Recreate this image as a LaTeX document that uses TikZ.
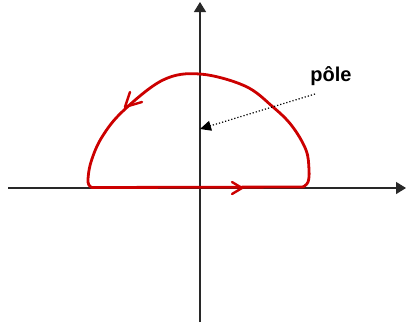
\documentclass[tikz,border=0pt]{standalone}
\usepackage{fontspec}
\setmainfont{Liberation Sans}
\usetikzlibrary{arrows.meta}
\definecolor{cred}{RGB}{204,0,0}
\definecolor{axisgray}{RGB}{40,40,40}
\tikzset{
  axis/.style={draw=axisgray, line width=1.3pt, -{Triangle[length=10pt,width=12pt]}},
  contour/.style={draw=cred, line width=2.8pt, line cap=round, line join=round},
  polearrow/.style={draw=black, line width=1.2pt, dotted, -{Triangle[length=11pt,width=10pt]}},
  lbl/.style={font=\bfseries\fontsize{20}{24}\selectfont, inner sep=0pt}
}
\begin{document}
\begin{tikzpicture}[x=1pt,y=-1pt]
\useasboundingbox (0,0) rectangle (406,327);
% axes
\coordinate (xs) at (8,188);
\coordinate (xe) at (406,188);
\coordinate (ys) at (200,322);
\coordinate (ye) at (200,2);
\draw[axis] (xs) -- (xe);
\draw[axis] (ys) -- (ye);
% contour
\coordinate (bl) at (92,187.5);
\coordinate (br) at (303,187);
\draw[contour] (bl) -- (br);
\draw[contour] plot[smooth, tension=0.6] coordinates {(br) (308,182) (309,170) (306,150) (292,126) (273,107) (245,86) (200,74) (163,80) (123,111) (102,137) (91,162) (88,182) (92,187.5)};
% direction chevrons
\draw[contour, line width=2.4pt] (232,182) -- (242,188) -- (232,194);
\draw[contour, line width=2.4pt] (130,92) -- (125,107) -- (142,102);
% pole
\coordinate (pole) at (200,129);
\coordinate (ps) at (315,94);
\node[lbl] (plabel) at (331,76) {pôle};
\draw[polearrow] (ps) -- (pole);
\end{tikzpicture}
\end{document}
